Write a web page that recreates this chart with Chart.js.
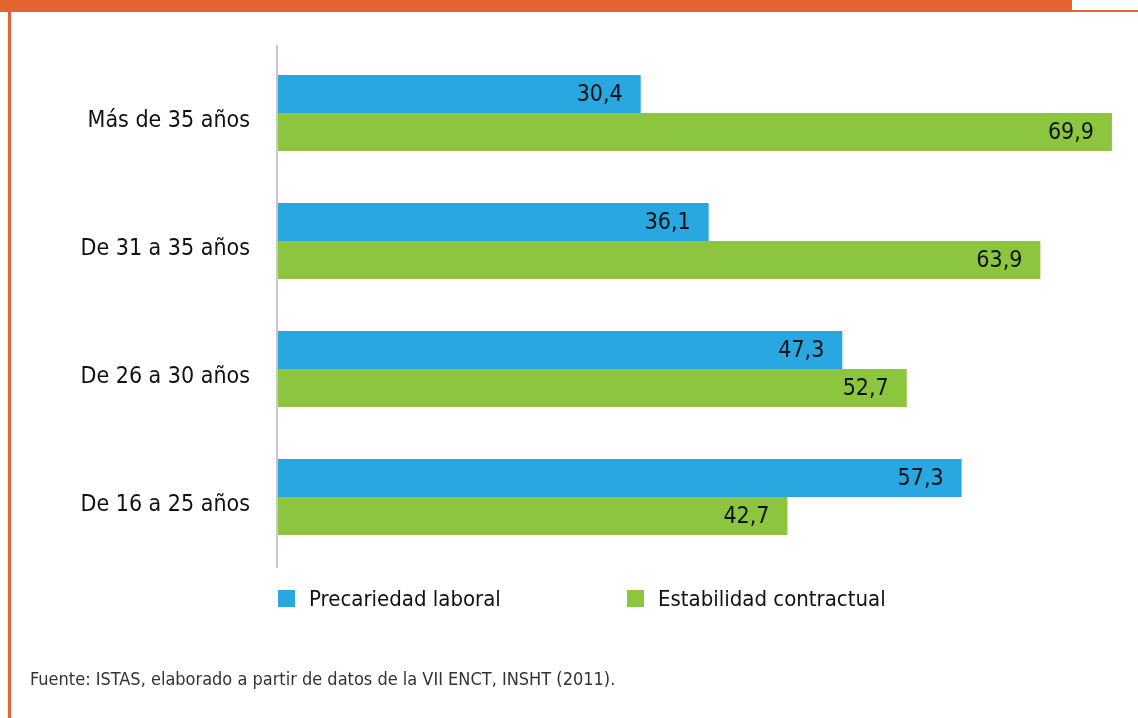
<!DOCTYPE html>
<html lang="es">
<head>
<meta charset="utf-8">
<title>Precariedad laboral por edad</title>
<script src="https://cdn.jsdelivr.net/npm/chart.js@4/dist/chart.umd.min.js"></script>
<style>
  html, body { margin: 0; padding: 0; background: #fff; }
  body { width: 1138px; height: 718px; position: relative; overflow: hidden;
         font-family: "Liberation Sans Narrow", "DejaVu Sans Condensed", sans-serif; color: #111; }
  .top-bar { position: absolute; left: 0; top: 0; width: 1072px; height: 12px; background: #e36331; }
  .top-line { position: absolute; left: 1072px; top: 10px; width: 66px; height: 2px; background: #e36331; }
  .side-bar { position: absolute; left: 8px; top: 0; width: 3px; height: 718px; background: #e36331; }
  #chart { position: absolute; left: 0; top: 0; }
  #legend { position: absolute; left: 278px; top: 586px; height: 26px; }
  .item { position: absolute; top: 0; white-space: nowrap; font-size: 22px; line-height: 26px; }
  .item .box { position: absolute; left: 0; top: 4px; width: 17px; height: 17px; }
  .item .txt { position: absolute; left: 31px; top: 0; }
  .source { position: absolute; left: 30px; top: 668px; font-size: 18px; line-height: 22px; color: #333; white-space: nowrap; }
</style>
</head>
<body>
<div class="top-bar"></div>
<div class="top-line"></div>
<div class="side-bar"></div>
<canvas id="chart" width="1138" height="718"></canvas>
<div id="legend"></div>
<div class="source">Fuente: ISTAS, elaborado a partir de datos de la VII ENCT, INSHT (2011).</div>
<script>
// grupos de edad (de arriba a abajo)
const categories = ['Más de 35 años', 'De 31 a 35 años', 'De 26 a 30 años', 'De 16 a 25 años'];
const seriesNames = ['Precariedad laboral', 'Estabilidad contractual'];
const precariedad = [30.4, 36.1, 47.3, 57.3];
const estabilidad = [69.9, 63.9, 52.7, 42.7];
const colors = ['#29a7e1', '#8cc63f'];

const labelFont = '"Liberation Sans Narrow", "DejaVu Sans Condensed", sans-serif';

// línea vertical del eje, algo más larga que el área del gráfico
const axisLine = {
    id: 'axisLine',
    beforeDatasetsDraw(chart) {
        const { ctx, chartArea } = chart;
        ctx.save();
        ctx.fillStyle = '#c8c8c8';
        ctx.fillRect(chartArea.left - 2, chartArea.top - 4, 2, chartArea.bottom - chartArea.top + 11);
        ctx.restore();
    }
};

// valores dentro del extremo de cada barra
const barValues = {
    id: 'barValues',
    afterDatasetsDraw(chart) {
        const ctx = chart.ctx;
        ctx.save();
        ctx.font = '23px ' + labelFont;
        ctx.fillStyle = '#111';
        ctx.textAlign = 'right';
        ctx.textBaseline = 'middle';
        chart.data.datasets.forEach((ds, i) => {
            chart.getDatasetMeta(i).data.forEach((bar, j) => {
                const txt = ds.data[j].toFixed(1).replace('.', ',');
                ctx.fillText(txt, bar.x - 18, bar.y + 1);
            });
        });
        ctx.restore();
    }
};

const chart = new Chart(document.getElementById('chart'), {
    type: 'bar',
    data: {
        labels: categories,
        datasets: [
            { label: seriesNames[0], data: precariedad, backgroundColor: colors[0] },
            { label: seriesNames[1], data: estabilidad, backgroundColor: colors[1] }
        ]
    },
    options: {
        indexAxis: 'y',
        responsive: false,
        animation: false,
        events: [],
        layout: { padding: { left: 0, top: 49, right: 1, bottom: 157 } },
        datasets: { bar: { categoryPercentage: 0.594, barPercentage: 1 } },
        scales: {
            x: { display: false, min: 0, max: 72 },
            y: {
                grid: { display: false, drawTicks: false },
                border: { display: false },
                afterFit(scale) { scale.width = 278; },
                ticks: {
                    color: '#111',
                    padding: 28,
                    labelOffset: 8,
                    font: { family: labelFont, size: 23 }
                }
            }
        },
        plugins: {
            legend: { display: false },
            tooltip: { enabled: false }
        }
    },
    plugins: [axisLine, barValues]
});

// leyenda en HTML a partir de las series
const legend = document.getElementById('legend');
const legendX = [0, 349];
chart.data.datasets.forEach((ds, i) => {
    const item = document.createElement('div');
    item.className = 'item';
    item.style.left = legendX[i] + 'px';
    item.innerHTML = '<span class="box" style="background:' + ds.backgroundColor + '"></span><span class="txt">' + ds.label + '</span>';
    legend.appendChild(item);
});
</script>
</body>
</html>
